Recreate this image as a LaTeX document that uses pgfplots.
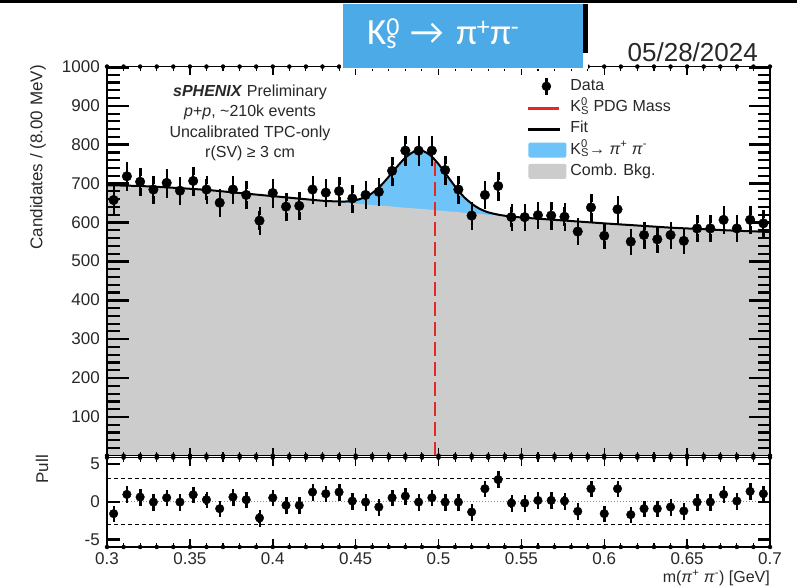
\documentclass[border=0pt]{standalone}
\usepackage{fontspec}
\setmainfont{Liberation Sans}
\newfontfamily\calibri{Carlito}
\usepackage{pgfplots}
\pgfplotsset{compat=1.18}
\usepackage{pgfplotstable}

\definecolor{sigblue}{RGB}{110,196,248}
\definecolor{bkggray}{RGB}{204,204,204}
\definecolor{boxblue}{RGB}{76,170,230}
\definecolor{pdgred}{RGB}{228,40,40}
\definecolor{txt}{RGB}{40,40,40}

\pgfplotstableread{
x y e p
0.304 657 25.6 -1.60
0.312 718 26.8 0.94
0.320 704 26.5 0.59
0.328 684 26.2 -0.07
0.336 701 26.5 0.50
0.344 681 26.1 -0.07
0.352 706 26.6 0.90
0.360 684 26.2 0.24
0.368 650 25.5 -0.94
0.376 684 26.2 0.59
0.384 670 25.9 0.24
0.392 604 24.6 -2.17
0.400 675 26.0 0.50
0.408 640 25.3 -0.50
0.416 642 25.3 -0.50
0.424 684 26.2 1.25
0.432 676 26.0 1.03
0.440 680 26.1 1.25
0.448 661 25.7 0.07
0.456 670 25.9 -0.07
0.464 678 26.0 -0.72
0.472 732 27.1 0.50
0.480 784 28.0 0.72
0.488 784 28.0 -0.07
0.496 784 28.0 0.50
0.504 734 27.1 -0.07
0.512 684 26.2 -0.07
0.520 617 24.8 -1.38
0.528 670 25.9 1.69
0.536 693 26.3 2.90
0.544 613 24.8 -0.20
0.552 613 24.8 -0.20
0.560 618 24.9 0.15
0.568 617 24.8 0.15
0.576 614 24.8 0.07
0.584 576 24.0 -1.29
0.592 638 25.3 1.69
0.600 565 23.8 -1.60
0.608 633 25.2 1.69
0.616 550 23.5 -1.73
0.624 567 23.8 -0.94
0.632 556 23.6 -0.94
0.640 567 23.8 -0.72
0.648 552 23.5 -1.25
0.656 584 24.2 -0.07
0.664 584 24.2 -0.07
0.672 606 24.6 0.94
0.680 584 24.2 0.07
0.688 606 24.6 1.34
0.696 597 24.4 1.03
}\data

\pgfplotstableread{
x bg fit
0.300 695 695
0.320 693 693
0.340 688.5 688.5
0.360 683 683
0.380 675 675
0.400 667 667
0.420 659 659
0.430 655 655.2
0.440 651.5 653.1
0.445 649.5 653.4
0.450 648 656.6
0.455 646 663.0
0.460 644 674.8
0.465 642.5 693.2
0.470 641 717.0
0.475 639 742.7
0.480 637 765.8
0.485 635.5 781.0
0.490 634 783.7
0.495 632 772.2
0.500 630 749.5
0.505 628 720.7
0.510 626.5 691.9
0.515 624.5 666.5
0.520 623 647.6
0.525 621 634.1
0.530 619 625.3
0.535 617.5 620.3
0.540 615.5 616.6
0.550 612 612.1
0.560 609 609
0.580 603 603
0.600 597 597
0.620 591.5 591.5
0.640 586 586
0.660 582 582
0.680 578 578
0.700 575 575
}\curve

% y ticks: centres of short filled bars inside the frame
\pgfplotstableread{
y xl xr
100 0.30633 0.69367
200 0.30633 0.69367
300 0.30633 0.69367
400 0.30633 0.69367
500 0.30633 0.69367
600 0.30633 0.69367
700 0.30633 0.69367
800 0.30633 0.69367
900 0.30633 0.69367
998 0.30633 0.69367
}\ymaj
\pgfplotstableread{
y xl xr
20 0.30362 0.69638
40 0.30362 0.69638
60 0.30362 0.69638
80 0.30362 0.69638
120 0.30362 0.69638
140 0.30362 0.69638
160 0.30362 0.69638
180 0.30362 0.69638
220 0.30362 0.69638
240 0.30362 0.69638
260 0.30362 0.69638
280 0.30362 0.69638
320 0.30362 0.69638
340 0.30362 0.69638
360 0.30362 0.69638
380 0.30362 0.69638
420 0.30362 0.69638
440 0.30362 0.69638
460 0.30362 0.69638
480 0.30362 0.69638
520 0.30362 0.69638
540 0.30362 0.69638
560 0.30362 0.69638
580 0.30362 0.69638
620 0.30362 0.69638
640 0.30362 0.69638
660 0.30362 0.69638
680 0.30362 0.69638
720 0.30362 0.69638
740 0.30362 0.69638
760 0.30362 0.69638
780 0.30362 0.69638
820 0.30362 0.69638
840 0.30362 0.69638
860 0.30362 0.69638
880 0.30362 0.69638
920 0.30362 0.69638
940 0.30362 0.69638
960 0.30362 0.69638
980 0.30362 0.69638
}\ymin
\pgfplotstableread{
y xl xr
-5 0.30362 0.69638
0 0.30362 0.69638
5 0.30362 0.69638
}\pmaj
\pgfplotstableread{
x yb yt pb pt
0.30 0 1000 -6 5.8
0.35 0 1000 -6 5.8
0.40 0 1000 -6 5.8
0.45 0 1000 -6 5.8
0.50 0 1000 -6 5.8
0.55 0 1000 -6 5.8
0.60 0 1000 -6 5.8
0.65 0 1000 -6 5.8
0.70 0 1000 -6 5.8
}\xmaj
\pgfplotstableread{
x yb yt pb pt
0.31 0 1000 -6 5.8
0.32 0 1000 -6 5.8
0.33 0 1000 -6 5.8
0.34 0 1000 -6 5.8
0.36 0 1000 -6 5.8
0.37 0 1000 -6 5.8
0.38 0 1000 -6 5.8
0.39 0 1000 -6 5.8
0.41 0 1000 -6 5.8
0.42 0 1000 -6 5.8
0.43 0 1000 -6 5.8
0.44 0 1000 -6 5.8
0.46 0 1000 -6 5.8
0.47 0 1000 -6 5.8
0.48 0 1000 -6 5.8
0.49 0 1000 -6 5.8
0.51 0 1000 -6 5.8
0.52 0 1000 -6 5.8
0.53 0 1000 -6 5.8
0.54 0 1000 -6 5.8
0.56 0 1000 -6 5.8
0.57 0 1000 -6 5.8
0.58 0 1000 -6 5.8
0.59 0 1000 -6 5.8
0.61 0 1000 -6 5.8
0.62 0 1000 -6 5.8
0.63 0 1000 -6 5.8
0.64 0 1000 -6 5.8
0.66 0 1000 -6 5.8
0.67 0 1000 -6 5.8
0.68 0 1000 -6 5.8
0.69 0 1000 -6 5.8
}\xmin

\pgfplotsset{
  myaxis/.style={scale only axis, width=663pt, xmin=0.3, xmax=0.7,
    axis line style={line width=1.8pt, black},
    /pgf/number format/assume math mode=true, /pgf/number format/1000 sep={},
    scaled x ticks=false, scaled y ticks=false,
    major tick length=0pt, minor tick length=0pt,
    tick label style={font=\fontsize{17}{17}\selectfont, text=txt}},
  tk/.style 2 args={only marks, mark=none, forget plot,
    error bars/.cd, #1, error mark=none, error bar style={black, line width=#2}},
  htk/.style 2 args={only marks, mark=square*, mark size=#1, forget plot,
    mark options={fill=black, draw=none, yscale=#2}},
}

\begin{document}
\begin{tikzpicture}
\fill[white] (0,0) rectangle (797pt,588pt);
\useasboundingbox (0,0) rectangle (797pt,588pt);

% ---------- top panel ----------
\begin{axis}[myaxis, at={(107pt,132.4pt)}, anchor=south west, height=389pt,
  ymin=0, ymax=1000, ytick={100,200,300,400,500,600,700,800,900,1000},
  xtick=\empty,
  yticklabel style={inner sep=0pt, xshift=-7pt},
  axis on top,
  ylabel={Candidates / (8.00 MeV)},
  every axis y label/.style={at={(axis description cs:-0.104,1.004)}, rotate=90, anchor=east,
     inner sep=0pt, font=\fontsize{17}{17}\selectfont, text=txt},
  legend style={at={(axis description cs:0.6305,0.976)}, anchor=north west, draw=none, fill=none,
     font=\fontsize{16}{16}\selectfont, text=txt, row sep=5.2pt, column sep=4pt,
     nodes={inner sep=0pt, text height=12pt, text depth=4pt}},
  legend cell align=left]
\addplot[draw=none, fill=sigblue, smooth, forget plot] table[x=x,y=fit]{\curve} \closedcycle;
\addplot[draw=none, fill=bkggray, smooth, forget plot] table[x=x,y=bg]{\curve} \closedcycle;
\addplot[pdgred, line width=2pt, dash pattern=on 14pt off 6pt, forget plot] coordinates {(0.4976,0) (0.4976,768)};
\addplot[black, line width=2pt, smooth, forget plot] table[x=x,y=fit]{\curve};
\addplot[black, only marks, mark=*, mark size=4.8pt, forget plot,
   error bars/.cd, y dir=both, y explicit,
   error bar style={line width=2pt, black},
   error mark=square*, error mark options={fill=black, draw=none, mark size=3.6pt, yscale=0.2}]
   table[x=x, y=y, y error=e]{\data};
% ticks
\addplot[htk={10.5pt}{0.0714}] table[x=xl,y=y]{\ymaj};
\addplot[htk={10.5pt}{0.0714}] table[x=xr,y=y]{\ymaj};
\addplot[htk={6pt}{0.095}] table[x=xl,y=y]{\ymin};
\addplot[htk={6pt}{0.095}] table[x=xr,y=y]{\ymin};
\addplot[tk={y dir=plus, y fixed=20.6}{1.5pt}] table[x=x,y=yb]{\xmaj};
\addplot[tk={y dir=minus, y fixed=20.6}{1.5pt}] table[x=x,y=yt]{\xmaj};
\addplot[tk={y dir=plus, y fixed=10.3}{1.1pt}] table[x=x,y=yb]{\xmin};
\addplot[tk={y dir=minus, y fixed=10.3}{1.1pt}] table[x=x,y=yt]{\xmin};
\node[align=center, anchor=north, inner sep=0pt, font=\fontsize{16}{20.3}\selectfont, text=txt]
  at (axis description cs:0.2157,0.953)
  {\textbf{\textit{sPHENIX}} Preliminary\\ \textit{p}+\textit{p}, \textasciitilde210k events\\ Uncalibrated TPC-only\\ r(SV) ≥ 3 cm};
\addlegendimage{legend image code/.code={\path[draw=none,fill=none] (0pt,-7pt) rectangle (38pt,7pt);
   \fill[black] (17pt,-8pt) rectangle (19pt,8pt); \fill[black] (18pt,0pt) circle (4.5pt);}}
\addlegendentry{Data}
\addlegendimage{legend image code/.code={\fill[pdgred] (0pt,-1pt) rectangle (30pt,1pt);}}
\addlegendentry{K\rlap{\textsuperscript{0}}\textsubscript{S} PDG Mass}
\addlegendimage{legend image code/.code={\fill[black] (0pt,-1.2pt) rectangle (31pt,1.2pt);}}
\addlegendentry{Fit}
\addlegendimage{legend image code/.code={\fill[sigblue, draw=none, rounded corners=2pt] (0pt,-7.5pt) rectangle (38pt,7.5pt);}}
\addlegendentry{K\rlap{\textsuperscript{0}}\textsubscript{S}→ \textit{π}\textsuperscript{+} \textit{π}\textsuperscript{-}}
\addlegendimage{legend image code/.code={\fill[bkggray, draw=none, rounded corners=2pt] (0pt,-7.5pt) rectangle (38pt,7.5pt);}}
\addlegendentry{Comb. Bkg.}
\end{axis}

% ---------- pull panel ----------
\begin{axis}[myaxis, at={(107pt,41pt)}, anchor=south west, height=89.4pt,
  ymin=-6, ymax=5.8, ytick={-5,0,5},
  xtick={0.3,0.35,0.4,0.45,0.5,0.55,0.6,0.65,0.7},
  yticklabel style={inner sep=0pt, xshift=-7pt},
  xticklabel style={inner sep=0pt, yshift=-5pt},
  axis on top,
  ylabel={Pull},
  every axis y label/.style={at={(axis description cs:-0.098,1.03)}, rotate=90, anchor=east,
     inner sep=0pt, font=\fontsize{17}{17}\selectfont, text=txt},
  xlabel={m(\textit{π}\textsuperscript{+} \textit{π}\textsuperscript{-}) [GeV]},
  every axis x label/.style={at={(axis description cs:1,-0.347)}, anchor=east,
     inner sep=0pt, font=\fontsize{16}{16}\selectfont, text=txt}]
\addplot[black!45, line width=1pt, dotted] coordinates {(0.3,0) (0.7,0)};
\addplot[black, line width=1pt, dash pattern=on 4pt off 3pt] coordinates {(0.3,3) (0.7,3)};
\addplot[black, line width=1pt, dash pattern=on 4pt off 3pt] coordinates {(0.3,-3) (0.7,-3)};
\addplot[black, only marks, mark=*, mark size=4.3pt,
   error bars/.cd, y dir=both, y fixed=0.7,
   error bar style={line width=2pt, black},
   error mark=square*, error mark options={fill=black, draw=none, mark size=2.6pt, yscale=0.28}]
   table[x=x, y=p]{\data};
% ticks
\addplot[htk={6pt}{0.125}] table[x=xl,y=y]{\pmaj};
\addplot[htk={6pt}{0.125}] table[x=xr,y=y]{\pmaj};
\addplot[tk={y dir=plus, y fixed=1.055}{1.5pt}] table[x=x,y=pb]{\xmaj};
\addplot[tk={y dir=minus, y fixed=1.055}{1.5pt}] table[x=x,y=pt]{\xmaj};
\addplot[tk={y dir=plus, y fixed=0.53}{1.1pt}] table[x=x,y=pb]{\xmin};
\addplot[tk={y dir=minus, y fixed=0.53}{1.1pt}] table[x=x,y=pt]{\xmin};
\end{axis}

% ---------- title box and date ----------
\fill[white] (341pt,519pt) rectangle (588pt,584pt);
\fill[black] (583pt,535pt) rectangle (588pt,584pt);
\fill[boxblue] (343pt,520pt) rectangle (583pt,584pt);
\node[anchor=base west, inner sep=0pt, text=white, font=\calibri\fontsize{37}{37}\selectfont]
  at (367pt,543pt) {K\rlap{\textsuperscript{0}}\textsubscript{s}\hspace{0.35em}→\hspace{0.35em}π\textsuperscript{+}π\textsuperscript{-}};
\fill[black] (0pt,585pt) rectangle (797pt,588pt);
\node[anchor=base east, inner sep=0pt, text=txt, font=\fontsize{26}{26}\selectfont]
  at (758pt,526pt) {05/28/2024};
\end{tikzpicture}
\end{document}
